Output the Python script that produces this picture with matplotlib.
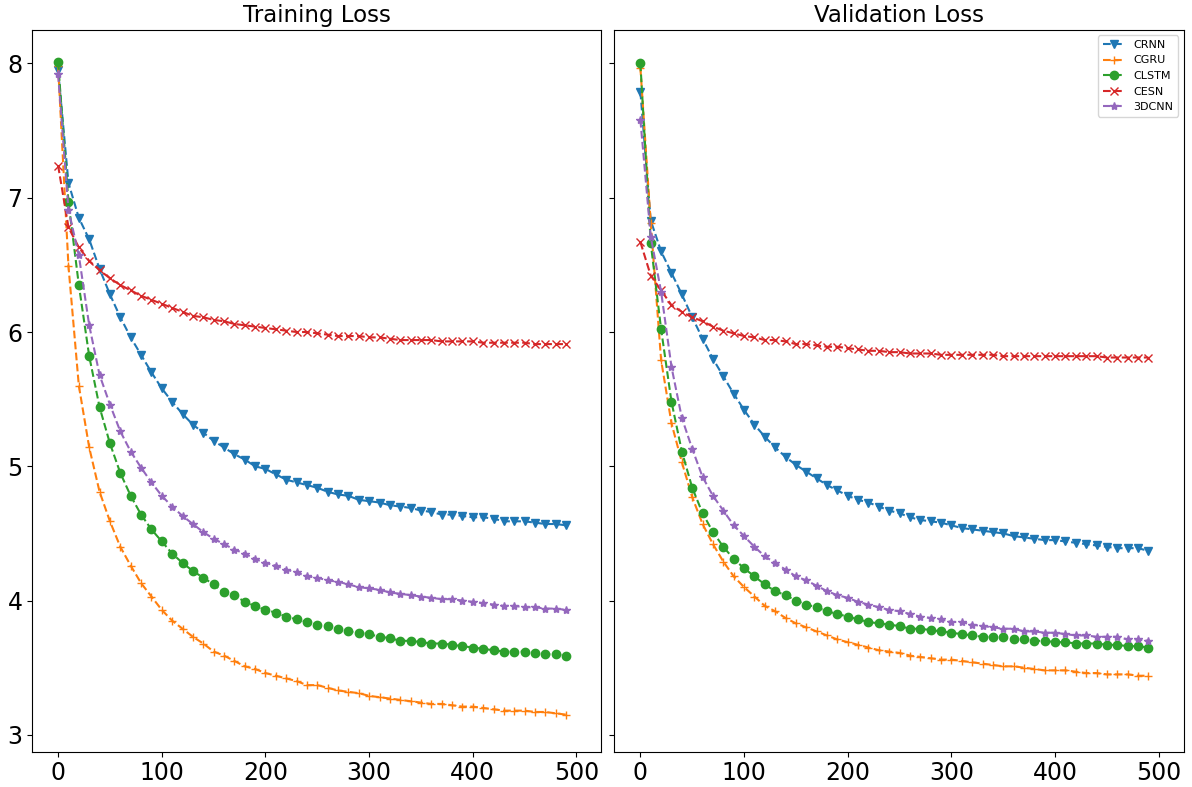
import numpy as np
import matplotlib
matplotlib.use('Agg')
import matplotlib.pyplot as plt

epochs = np.arange(0, 500, 10)
names = ['CRNN', 'CGRU', 'CLSTM', 'CESN', '3DCNN']
markers = ['v', '+', 'o', 'x', '*']

# training loss, one value every 10 epochs
train_crnn = [7.95, 7.11, 6.85, 6.69, 6.47, 6.28, 6.11, 5.96, 5.83, 5.70,
              5.58, 5.48, 5.39, 5.31, 5.25, 5.19, 5.14, 5.09, 5.05, 5.00,
              4.98, 4.94, 4.90, 4.88, 4.86, 4.84, 4.81, 4.79, 4.78, 4.75,
              4.74, 4.73, 4.71, 4.70, 4.69, 4.67, 4.66, 4.64, 4.64, 4.63,
              4.62, 4.62, 4.61, 4.59, 4.59, 4.59, 4.58, 4.57, 4.57, 4.56]
train_cgru = [7.98, 6.49, 5.60, 5.14, 4.81, 4.59, 4.40, 4.26, 4.13, 4.03,
              3.93, 3.85, 3.79, 3.73, 3.68, 3.62, 3.59, 3.55, 3.51, 3.49,
              3.46, 3.44, 3.42, 3.40, 3.37, 3.37, 3.35, 3.33, 3.32, 3.31,
              3.29, 3.28, 3.27, 3.26, 3.25, 3.24, 3.23, 3.23, 3.22, 3.21,
              3.21, 3.20, 3.19, 3.18, 3.18, 3.18, 3.17, 3.17, 3.16, 3.15]
train_clstm = [8.01, 6.97, 6.35, 5.82, 5.44, 5.17, 4.95, 4.78, 4.64, 4.53,
               4.44, 4.35, 4.28, 4.22, 4.17, 4.12, 4.06, 4.04, 3.99, 3.96,
               3.93, 3.91, 3.88, 3.86, 3.84, 3.82, 3.81, 3.79, 3.77, 3.76,
               3.75, 3.73, 3.72, 3.70, 3.70, 3.69, 3.68, 3.68, 3.67, 3.66,
               3.65, 3.64, 3.63, 3.62, 3.62, 3.62, 3.61, 3.60, 3.60, 3.59]
train_cesn = [7.24, 6.78, 6.63, 6.53, 6.46, 6.40, 6.35, 6.31, 6.27, 6.24,
              6.21, 6.18, 6.15, 6.12, 6.11, 6.09, 6.08, 6.06, 6.05, 6.04,
              6.03, 6.02, 6.01, 6.00, 6.00, 5.99, 5.98, 5.97, 5.97, 5.97,
              5.96, 5.96, 5.95, 5.94, 5.94, 5.94, 5.94, 5.93, 5.93, 5.93,
              5.93, 5.92, 5.92, 5.92, 5.92, 5.92, 5.91, 5.91, 5.91, 5.91]
train_3dcnn = [7.92, 6.91, 6.57, 6.05, 5.68, 5.46, 5.26, 5.11, 4.99, 4.88,
               4.78, 4.70, 4.63, 4.57, 4.51, 4.46, 4.42, 4.38, 4.35, 4.31,
               4.28, 4.26, 4.23, 4.21, 4.18, 4.17, 4.15, 4.14, 4.12, 4.10,
               4.09, 4.08, 4.06, 4.05, 4.04, 4.03, 4.02, 4.01, 4.01, 4.00,
               3.99, 3.98, 3.97, 3.96, 3.96, 3.95, 3.95, 3.94, 3.94, 3.93]

# validation loss
val_crnn = [7.79, 6.83, 6.60, 6.44, 6.28, 6.11, 5.95, 5.80, 5.67, 5.54,
            5.42, 5.31, 5.22, 5.14, 5.07, 5.01, 4.96, 4.91, 4.86, 4.82,
            4.78, 4.75, 4.73, 4.70, 4.67, 4.65, 4.62, 4.60, 4.59, 4.58,
            4.56, 4.54, 4.53, 4.52, 4.51, 4.50, 4.48, 4.47, 4.46, 4.45,
            4.45, 4.44, 4.43, 4.42, 4.41, 4.40, 4.39, 4.39, 4.39, 4.37]
val_cgru = [7.97, 6.81, 5.79, 5.32, 5.03, 4.77, 4.57, 4.42, 4.29, 4.18,
            4.10, 4.03, 3.96, 3.92, 3.87, 3.83, 3.80, 3.77, 3.74, 3.71,
            3.69, 3.67, 3.65, 3.63, 3.62, 3.61, 3.59, 3.58, 3.57, 3.56,
            3.56, 3.55, 3.54, 3.53, 3.52, 3.51, 3.51, 3.50, 3.49, 3.48,
            3.48, 3.48, 3.47, 3.46, 3.46, 3.45, 3.45, 3.45, 3.44, 3.44]
val_clstm = [8.00, 6.66, 6.02, 5.48, 5.11, 4.84, 4.65, 4.51, 4.40, 4.31,
             4.24, 4.18, 4.12, 4.07, 4.04, 4.00, 3.97, 3.95, 3.92, 3.90,
             3.88, 3.86, 3.84, 3.83, 3.82, 3.81, 3.79, 3.79, 3.78, 3.77,
             3.76, 3.75, 3.74, 3.73, 3.73, 3.73, 3.71, 3.71, 3.70, 3.70,
             3.69, 3.69, 3.68, 3.68, 3.68, 3.67, 3.67, 3.66, 3.66, 3.65]
val_cesn = [6.67, 6.42, 6.31, 6.20, 6.15, 6.11, 6.08, 6.04, 6.01, 5.99,
            5.97, 5.96, 5.94, 5.94, 5.93, 5.91, 5.91, 5.90, 5.89, 5.89,
            5.88, 5.87, 5.86, 5.86, 5.85, 5.85, 5.84, 5.84, 5.84, 5.83,
            5.83, 5.83, 5.83, 5.83, 5.83, 5.82, 5.82, 5.82, 5.82, 5.82,
            5.82, 5.82, 5.82, 5.82, 5.82, 5.81, 5.81, 5.81, 5.81, 5.81]
val_3dcnn = [7.58, 6.71, 6.30, 5.74, 5.36, 5.13, 4.92, 4.78, 4.67, 4.56,
             4.48, 4.40, 4.33, 4.28, 4.23, 4.18, 4.15, 4.11, 4.07, 4.04,
             4.02, 3.99, 3.97, 3.95, 3.93, 3.92, 3.90, 3.88, 3.87, 3.86,
             3.84, 3.84, 3.82, 3.81, 3.80, 3.79, 3.79, 3.77, 3.77, 3.76,
             3.76, 3.75, 3.74, 3.74, 3.73, 3.73, 3.73, 3.71, 3.71, 3.70]

train = [train_crnn, train_cgru, train_clstm, train_cesn, train_3dcnn]
val = [val_crnn, val_cgru, val_clstm, val_cesn, val_3dcnn]

fig, (ax1, ax2) = plt.subplots(1, 2, sharey=True, figsize=(11.92, 7.87), dpi=100)
plt.subplots_adjust(left=0.027, right=0.993, top=0.962, bottom=0.045, wspace=0.023)

for ax, data, title in [(ax1, train, 'Training Loss'), (ax2, val, 'Validation Loss')]:
    for vals, name, m in zip(data, names, markers):
        ax.plot(epochs, vals, linestyle='--', marker=m, label=name)
    ax.set_title(title, fontsize=16.5)
    ax.tick_params(labelsize=17)
    ax.set_xlim(-25, 524)
    ax.set_xticks([0, 100, 200, 300, 400, 500])

ax1.set_ylim(2.875, 8.25)
ax1.set_yticks([3, 4, 5, 6, 7, 8])
ax2.legend(loc='upper right', fontsize=8)

plt.savefig('out.png')
